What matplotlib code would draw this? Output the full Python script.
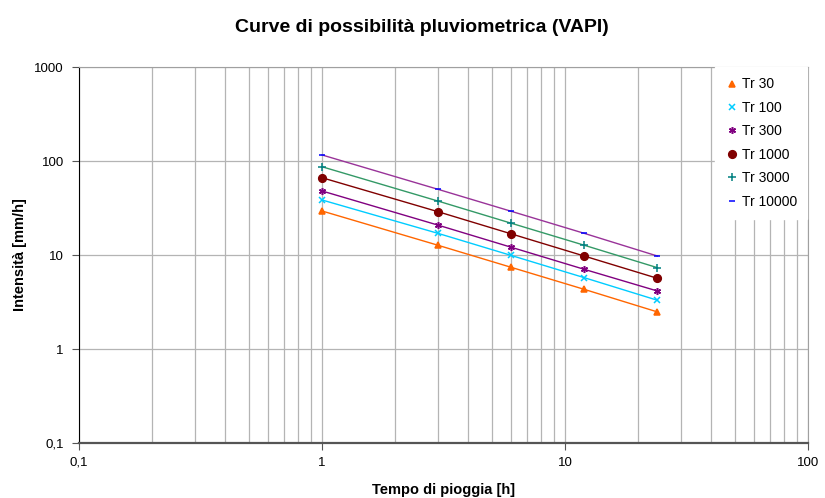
import matplotlib
matplotlib.use('Agg')
import matplotlib.pyplot as plt
from matplotlib.ticker import LogLocator, FixedLocator, FuncFormatter

plt.rcParams['font.family'] = ['Liberation Sans', 'DejaVu Sans']

durations = [1, 3, 6, 12, 24]
labels = ['Tr 30', 'Tr 100', 'Tr 300', 'Tr 1000', 'Tr 3000', 'Tr 10000']
tr30 = [29.4, 12.7, 7.4, 4.31, 2.48]
tr100 = [38.5, 17.0, 9.9, 5.74, 3.30]
tr300 = [48.0, 20.8, 12.1, 7.04, 4.14]
tr1000 = [66.4, 28.9, 16.8, 9.75, 5.65]
tr3000 = [86.9, 37.5, 21.8, 12.7, 7.33]
tr10000 = [116.0, 50.0, 29.2, 17.0, 9.75]

series = [tr30, tr100, tr300, tr1000, tr3000, tr10000]
markers = ['^', 'x', (6, 2, 0), 'o', '+', '_']
marker_colors = ['#FF6600', '#00CCFF', '#800080', '#800000', '#008080', '#0000FF']
line_colors = ['#FF6600', '#00CCFF', '#800080', '#800000', '#339966', '#993399']
marker_sizes = [5, 4.5, 5, 5.5, 5.5, 4]


def it_fmt(v, pos):
    return f'{v:g}'.replace('.', ',')


fig = plt.figure(figsize=(8.25, 4.98), dpi=100)
ax = fig.add_axes([79 / 825, 1 - 443 / 498, (808 - 79) / 825, (443 - 67) / 498])

for vals, lc in zip(series, line_colors):
    ax.plot(durations, vals, color=lc, lw=1.0, zorder=3)
for vals, lab, m, mc, ms in zip(series, labels, markers, marker_colors, marker_sizes):
    ax.plot(durations, vals, linestyle='none', marker=m, color=mc, ms=ms,
            mew=1.1, label=lab, zorder=4)

ax.set_xscale('log')
ax.set_yscale('log')
ax.set_xlim(0.1, 100)
ax.set_ylim(0.1, 1000)

ax.xaxis.set_major_locator(FixedLocator([0.1, 1, 10, 100]))
ax.xaxis.set_minor_locator(LogLocator(base=10, subs=range(2, 10)))
ax.yaxis.set_major_locator(FixedLocator([0.1, 1, 10, 100, 1000]))
ax.yaxis.set_minor_locator(FixedLocator([]))
ax.xaxis.set_major_formatter(FuncFormatter(it_fmt))
ax.yaxis.set_major_formatter(FuncFormatter(it_fmt))
ax.xaxis.set_minor_formatter(FuncFormatter(lambda v, p: ''))

ax.grid(True, which='major', axis='both', color='#B4B4B4', lw=0.9)
ax.grid(True, which='minor', axis='x', color='#B4B4B4', lw=0.9)
ax.set_axisbelow(True)

ax.tick_params(axis='both', which='major', direction='out', length=5,
               labelsize=9.5, color='#555555')
ax.tick_params(axis='x', which='minor', length=0)
ax.tick_params(axis='x', which='major', pad=5)
ax.tick_params(axis='y', which='major', pad=6)

ax.spines['left'].set_color('black')
ax.spines['bottom'].set_color('#555555')
ax.spines['bottom'].set_linewidth(1.6)
ax.spines['top'].set_color('#A0A0A0')
ax.spines['right'].set_color('#A0A0A0')

ax.set_xlabel('Tempo di pioggia [h]', fontsize=10.5, fontweight='bold', labelpad=10)
ax.set_ylabel('Intensità [mm/h]', fontsize=10.5, fontweight='bold', labelpad=5)
fig.text(422 / 825, 1 - 27 / 498, 'Curve di possibilità pluviometrica (VAPI)',
         fontsize=14, fontweight='bold', ha='center', va='center')

leg = ax.legend(loc='upper left', fontsize=10, frameon=True, fancybox=False,
                handlelength=1.0, handletextpad=0.2, labelspacing=0.68,
                borderpad=0.75, borderaxespad=0, bbox_to_anchor=(0.872, 1.0))
leg.get_frame().set_edgecolor('white')
leg.get_frame().set_facecolor('white')
leg.get_frame().set_alpha(1)

fig.savefig('out.png', dpi=100)
